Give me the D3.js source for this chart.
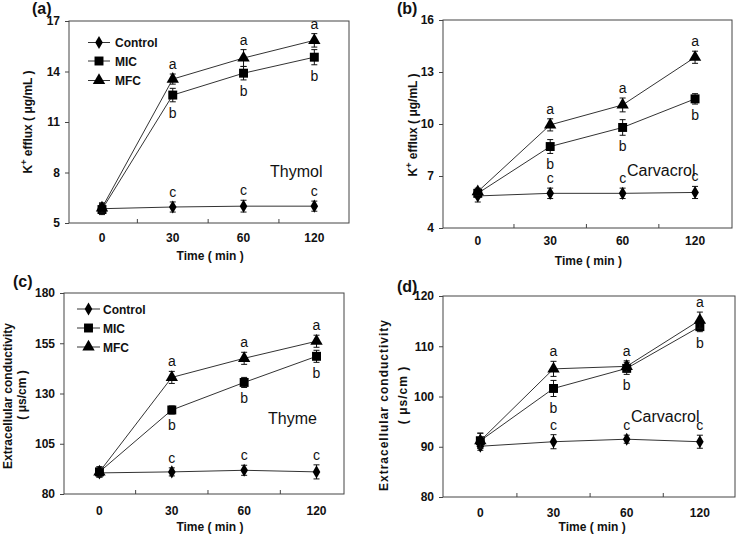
<!DOCTYPE html>
<html><head><meta charset="utf-8">
<script src="https://cdn.jsdelivr.net/npm/d3@7"></script>
<style>
html,body{margin:0;padding:0;background:#fff;}
text{font-family:"Liberation Sans",Arial,sans-serif;}
</style></head>
<body><svg id="chart" width="738" height="536"></svg>
<script>
// ---------- DATA ----------
const categories = ["0", "30", "60", "120"];
const seriesNames = ["Control", "MIC", "MFC"];

// (a) Thymol, K+ efflux
const aControl = [5.85, 5.95, 6.0, 6.0];
const aControlErr = [0.3, 0.3, 0.35, 0.3];
const aMIC = [5.8, 12.6, 13.9, 14.85];
const aMICErr = [0.3, 0.4, 0.4, 0.45];
const aMFC = [5.9, 13.55, 14.8, 15.85];
const aMFCErr = [0.3, 0.3, 0.5, 0.4];
const aYTicks = [5, 8, 11, 14, 17];

// (b) Carvacrol, K+ efflux
const bControl = [5.85, 6.0, 6.0, 6.05];
const bControlErr = [0.35, 0.3, 0.3, 0.35];
const bMIC = [6.0, 8.7, 9.8, 11.45];
const bMICErr = [0.25, 0.4, 0.45, 0.3];
const bMFC = [6.1, 9.95, 11.1, 13.85];
const bMFCErr = [0.2, 0.35, 0.4, 0.35];
const bYTicks = [4, 7, 10, 13, 16];

// (c) Thyme, extracellular conductivity
const cControl = [90.5, 91, 91.8, 91];
const cControlErr = [2, 2, 2.5, 3.5];
const cMIC = [91, 121.8, 135.5, 148.5];
const cMICErr = [2.5, 2, 2.5, 3];
const cMFC = [91, 138, 147.5, 156];
const cMFCErr = [2.5, 3, 3, 3];
const cYTicks = [80, 105, 130, 155, 180];

// (d) Carvacrol, extracellular conductivity
const dControl = [90.1, 91, 91.5, 91];
const dControlErr = [0.8, 1.4, 0.8, 1.3];
const dMIC = [91.2, 101.6, 105.6, 113.9];
const dMICErr = [1.5, 1.6, 1.2, 1.0];
const dMFC = [91.2, 105.5, 106, 115.2];
const dMFCErr = [1.5, 1.5, 1.1, 1.6];
const dYTicks = [80, 90, 100, 110, 120];

// significance letters (index 0 has none)
const lettersMFC = ["", "a", "a", "a"];
const lettersMIC = ["", "b", "b", "b"];
const lettersControl = ["", "c", "c", "c"];

const panelTags = ["(a)", "(b)", "(c)", "(d)"];
const panelNotes = ["Thymol", "Carvacrol", "Thyme", "Carvacrol"];

// ---------- LAYOUT ----------
const svg = d3.select("#chart");
const INK = "#111";
const LINE = "#333";

const panels = [
  { tag: panelTags[0], note: panelNotes[0], frame: {l: 69, t: 21, r: 349, b: 223}, xd: [-0.466, 3.49],
    yTicks: aYTicks, series: [[aControl, aControlErr, lettersControl], [aMIC, aMICErr, lettersMIC], [aMFC, aMFCErr, lettersMFC]],
    tagPos: [32, 14], notePos: [270, 177], xLabY: 260, xTickY: 242, legend: {x0: 88, x1: 110, tx: 115, ys: [42.5, 61, 80.5]},
    yLab: {type: "k", x: 27.5, y: 122} },
  { tag: panelTags[1], note: panelNotes[1], frame: {l: 443, t: 20, r: 732, b: 228}, xd: [-0.48, 3.51],
    yTicks: bYTicks, series: [[bControl, bControlErr, lettersControl], [bMIC, bMICErr, lettersMIC], [bMFC, bMFCErr, lettersMFC]],
    tagPos: [397, 14], notePos: [627, 176], xLabY: 265, xTickY: 245, legend: null,
    yLab: {type: "k", x: 413, y: 125} },
  { tag: panelTags[2], note: panelNotes[2], frame: {l: 64, t: 293, r: 344, b: 494}, xd: [-0.49, 3.38],
    yTicks: cYTicks, series: [[cControl, cControlErr, lettersControl], [cMIC, cMICErr, lettersMIC], [cMFC, cMFCErr, lettersMFC]],
    tagPos: [13, 287], notePos: [268, 424], xLabY: 531, xTickY: 515, legend: {x0: 77, x1: 100, tx: 103, ys: [309, 328, 347]},
    yLab: {type: "ec", x1: 8, x2: 22, y1: 396, y2: 395, spacing: 0} },
  { tag: panelTags[3], note: panelNotes[3], frame: {l: 443, t: 296, r: 735, b: 497}, xd: [-0.51, 3.48],
    yTicks: dYTicks, series: [[dControl, dControlErr, lettersControl], [dMIC, dMICErr, lettersMIC], [dMFC, dMFCErr, lettersMFC]],
    tagPos: [397, 292], notePos: [631, 422], xLabY: 531, xTickY: 517, legend: null,
    yLab: {type: "ec", x1: 384, x2: 403, y1: 405, y2: 395, spacing: 1} }
];

const symbolTypes = [d3.symbolDiamond, d3.symbolSquare, d3.symbolTriangle];
const symbolSizes = [50, 80, 66];

function drawPanel(p) {
  const f = p.frame;
  const g = svg.append("g");
  const x = d3.scaleLinear().domain(p.xd).range([f.l, f.r]);
  const y = d3.scaleLinear().domain([p.yTicks[0], p.yTicks[p.yTicks.length - 1]]).range([f.b, f.t]);

  // frame
  g.append("rect").attr("x", f.l).attr("y", f.t).attr("width", f.r - f.l).attr("height", f.b - f.t)
    .attr("fill", "none").attr("stroke", "#444").attr("stroke-width", 1);

  // y axis
  const yAxis = d3.axisLeft(y).tickValues(p.yTicks).tickSize(4).tickPadding(5);
  const ya = g.append("g").attr("transform", `translate(${f.l},0)`).call(yAxis);
  ya.select(".domain").remove();
  ya.selectAll("line").attr("stroke", "#444");
  ya.selectAll("text").attr("font-size", 12).attr("font-weight", "bold").attr("fill", INK)
    .style("font-family", "'Liberation Sans',Arial,sans-serif");

  // x axis: category labels + minor inward ticks between categories
  const xa = g.append("g");
  xa.selectAll("text.cat").data(categories).join("text")
    .attr("x", (d, i) => x(i)).attr("y", p.xTickY).attr("text-anchor", "middle")
    .attr("font-size", 12).attr("font-weight", "bold").attr("fill", INK).text(d => d);
  xa.selectAll("line.minor").data([0.5, 1.5, 2.5]).join("line")
    .attr("x1", d => x(d)).attr("x2", d => x(d)).attr("y1", f.b).attr("y2", f.b - 4)
    .attr("stroke", "#444");

  // x title
  g.append("text").attr("x", (x(0) + x(3)) / 2 + 2).attr("y", p.xLabY).attr("text-anchor", "middle")
    .attr("font-size", 12).attr("font-weight", "bold").attr("fill", INK).text("Time ( min )");

  // y title
  if (p.yLab.type === "k") {
    const t = g.append("text").attr("transform", `translate(${p.yLab.x + 4},${p.yLab.y}) rotate(-90)`)
      .attr("text-anchor", "middle").attr("font-size", 12).attr("font-weight", "bold").attr("fill", INK);
    t.append("tspan").text("K");
    t.append("tspan").attr("baseline-shift", "super").attr("font-size", 9).text("+");
    t.append("tspan").text(" efflux ( μg/mL )");
  } else {
    g.append("text").attr("transform", `translate(${p.yLab.x1 + 4},${p.yLab.y1}) rotate(-90)`)
      .attr("text-anchor", "middle").attr("font-size", 12).attr("font-weight", "bold").attr("fill", INK)
      .attr("letter-spacing", p.yLab.spacing).text("Extracellular conductivity");
    g.append("text").attr("transform", `translate(${p.yLab.x2 + 4},${p.yLab.y2}) rotate(-90)`)
      .attr("text-anchor", "middle").attr("font-size", 12).attr("font-weight", "bold").attr("fill", INK)
      .attr("letter-spacing", p.yLab.spacing).text("( μs/cm )");
  }

  // panel tag
  g.append("text").attr("x", p.tagPos[0]).attr("y", p.tagPos[1]).attr("font-size", 16)
    .attr("font-weight", "bold").attr("fill", INK).text(p.tag);

  // note
  g.append("text").attr("x", p.notePos[0]).attr("y", p.notePos[1]).attr("font-size", 16)
    .attr("fill", INK).text(p.note);

  // series
  const line = d3.line().x((d, i) => x(i)).y(d => y(d));
  p.series.forEach((s, si) => {
    const [vals, errs, letters] = s;
    g.append("path").attr("d", line(vals)).attr("fill", "none").attr("stroke", LINE).attr("stroke-width", 1);
    const eg = g.append("g");
    vals.forEach((v, i) => {
      const cx = x(i), y0 = y(v - errs[i]), y1 = y(v + errs[i]);
      eg.append("line").attr("x1", cx).attr("x2", cx).attr("y1", y0).attr("y2", y1).attr("stroke", INK);
      eg.append("line").attr("x1", cx - 3).attr("x2", cx + 3).attr("y1", y0).attr("y2", y0).attr("stroke", INK);
      eg.append("line").attr("x1", cx - 3).attr("x2", cx + 3).attr("y1", y1).attr("y2", y1).attr("stroke", INK);
    });
    g.append("g").selectAll("path").data(vals).join("path")
      .attr("transform", (d, i) => `translate(${x(i)},${y(d)})`)
      .attr("d", d3.symbol().type(symbolTypes[si]).size(symbolSizes[si]))
      .attr("fill", "#000");
    // letters
    g.append("g").selectAll("text").data(letters).join("text")
      .attr("x", (d, i) => x(i))
      .attr("y", (d, i) => si === 1 ? y(vals[i] - errs[i]) + 16 : y(vals[i] + errs[i]) - 5)
      .attr("text-anchor", "middle").attr("font-size", 14).attr("fill", INK).text(d => d);
  });

  // legend
  if (p.legend) {
    const L = p.legend;
    seriesNames.forEach((name, si) => {
      const yy = L.ys[si];
      g.append("line").attr("x1", L.x0).attr("x2", L.x1).attr("y1", yy).attr("y2", yy).attr("stroke", LINE);
      g.append("path").attr("transform", `translate(${(L.x0 + L.x1) / 2},${yy})`)
        .attr("d", d3.symbol().type(symbolTypes[si]).size(symbolSizes[si])).attr("fill", "#000");
      g.append("text").attr("x", L.tx).attr("y", yy + 4.5).attr("font-size", 12).attr("font-weight", "bold")
        .attr("fill", INK).text(name);
    });
  }
}

panels.forEach(drawPanel);
</script>
</body></html>
